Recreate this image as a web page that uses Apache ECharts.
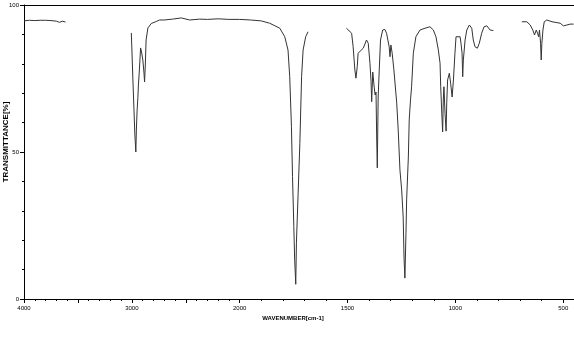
<!DOCTYPE html>
<html>
<head>
<meta charset="utf-8">
<script src="https://cdn.jsdelivr.net/npm/echarts@6/dist/echarts.min.js"></script>
<style>
  html, body { margin: 0; padding: 0; background: #fff; }
  #chart { width: 574px; height: 337px; }
</style>
</head>
<body>
<div id="chart"></div>
<script>
// wavenumber (cm-1) / transmittance (%), one pair of arrays per trace piece
const seg1W = [4000, 3950, 3900, 3850, 3800, 3750, 3700, 3670, 3645, 3615];
const seg1T = [94.6, 94.8, 94.7, 94.8, 94.8, 94.7, 94.5, 94.1, 94.5, 94.2];

const seg2W = [3005, 3000, 2990, 2981, 2972, 2963, 2958, 2951, 2944, 2939, 2933, 2925, 2919, 2910, 2898,
  2888, 2882, 2875, 2868, 2851, 2820, 2773, 2743, 2700, 2622, 2541, 2464, 2371, 2300, 2200, 2100, 2000,
  1950, 1900, 1861, 1814, 1791, 1776, 1768, 1760, 1755, 1749, 1745, 1740, 1737, 1729, 1721, 1713, 1706,
  1694, 1683];
const seg2T = [90.5, 85.4, 74.5, 65.0, 55.8, 50.0, 57.5, 64.3, 68.5, 72.8, 76.2, 81.3, 85.4, 84.0, 81.3,
  77.2, 73.8, 79.6, 88.1, 92.2, 93.7, 94.4, 94.9, 94.9, 95.2, 95.6, 94.9, 95.2, 95.1, 95.3, 95.1, 95.1,
  94.9, 94.6, 93.8, 92.1, 89.2, 84.7, 75.6, 58.6, 41.6, 24.6, 13.3, 5.0, 19.0, 36.0, 53.0, 75.6, 84.7,
  89.2, 90.9];

const seg3W = [1505, 1481, 1474, 1466, 1461, 1455, 1451, 1443, 1427, 1412, 1404, 1396, 1391, 1388, 1383,
  1376, 1372, 1368, 1365, 1362, 1358, 1353, 1347, 1337, 1327, 1319, 1307, 1303, 1299, 1293, 1285, 1272,
  1265, 1257, 1249, 1242, 1238, 1234, 1229, 1226, 1218, 1214, 1208, 1203, 1195, 1183, 1164, 1141, 1118,
  1102, 1090, 1079, 1071, 1068, 1063, 1059, 1056, 1053, 1048, 1043, 1040, 1036, 1028, 1022, 1015, 1009,
  1002, 997, 991, 978, 974, 969, 966, 963, 955, 947, 935, 924, 917, 909, 898, 889, 878, 867, 854, 839, 824];
const seg3T = [92.1, 90.4, 85.8, 77.9, 75.1, 79.0, 83.6, 84.1, 85.3, 88.1, 87.0, 80.2, 74.0, 67.1, 77.2,
  71.8, 69.4, 70.4, 55.8, 44.6, 68.7, 77.9, 88.1, 91.5, 91.7, 90.4, 85.8, 82.4, 86.4, 83.6, 77.9, 66.7,
  57.5, 43.9, 37.1, 27.9, 13.9, 7.1, 22.4, 33.7, 48.3, 60.9, 67.7, 72.2, 83.6, 89.2, 91.5, 92.1, 92.6,
  91.5, 89.2, 84.7, 80.2, 72.2, 63.2, 56.8, 67.7, 72.2, 63.2, 57.1, 66.7, 74.5, 76.8, 73.4, 68.7, 74.5,
  83.6, 89.2, 89.8, 89.2, 87.0, 83.6, 75.6, 81.3, 88.1, 91.5, 93.2, 92.1, 88.1, 85.8, 85.3, 87.0, 90.4,
  92.6, 92.9, 91.5, 91.3];

const seg4W = [692, 669, 653, 641, 633, 625, 619, 614, 610, 605, 602, 599, 594, 588, 576, 552, 529, 514,
  499, 483, 468, 452];
const seg4T = [94.3, 94.3, 93.2, 91.5, 89.8, 91.5, 90.4, 89.2, 91.5, 87.0, 81.3, 87.0, 91.5, 94.3, 94.9,
  94.3, 94.0, 93.8, 92.9, 93.2, 93.5, 93.5];

const minorTickWn = [];
for (let w = 4000; w >= 500; w -= 100) minorTickWn.push(w);
const majorTickWn = [4000, 3500, 3000, 2500, 2000, 1500, 1000, 500];
const labelWn = [4000, 3000, 2000, 1500, 1000, 500];

// the axis is drawn at half scale above 2000 cm-1
const toPos = (w) => (w >= 2000 ? (4000 - w) / 2 : 1000 + (2000 - w));
const toWn = (p) => (p <= 1000 ? 4000 - 2 * p : 2000 - (p - 1000));

const font = "Liberation Sans";
const xMax = 2550;

const makeSeries = (ws, ts) => ({
  type: "line",
  showSymbol: false,
  symbol: "none",
  data: ws.map((w, i) => [toPos(w), ts[i]]),
  lineStyle: { color: "#333", width: 1 },
  silent: true
});

const option = {
  animation: false,
  grid: { left: 24, right: 0, top: 5, bottom: 38 },
  xAxis: [
    {
      type: "value",
      min: 0,
      max: xMax,
      position: "bottom",
      axisLine: { lineStyle: { color: "#000", width: 1 } },
      axisTick: { show: true, length: 2, customValues: minorTickWn.map(toPos), lineStyle: { color: "#000" } },
      axisLabel: {
        customValues: labelWn.map(toPos),
        formatter: (v) => String(Math.round(toWn(v))),
        fontSize: 6,
        fontFamily: font,
        color: "#000",
        margin: 6,
        showMinLabel: true,
        showMaxLabel: true
      },
      splitLine: { show: false }
    },
    {
      type: "value",
      min: 0,
      max: xMax,
      position: "bottom",
      axisLine: { show: false },
      axisTick: { show: true, length: 4, customValues: majorTickWn.map(toPos), lineStyle: { color: "#000" } },
      axisLabel: { show: false },
      splitLine: { show: false }
    },
    {
      type: "value",
      min: 0,
      max: xMax,
      position: "top",
      axisLine: { lineStyle: { color: "#000", width: 1 } },
      axisTick: { show: false },
      axisLabel: { show: false },
      splitLine: { show: false }
    }
  ],
  yAxis: {
    type: "value",
    min: 0,
    max: 100,
    interval: 50,
    axisLine: { show: true, lineStyle: { color: "#000", width: 1 } },
    axisTick: { show: true, length: 4, lineStyle: { color: "#000" } },
    minorTick: { show: true, splitNumber: 5, length: 2, lineStyle: { color: "#000" } },
    axisLabel: { fontSize: 6, fontFamily: font, color: "#000", margin: 5 },
    splitLine: { show: false }
  },
  graphic: [
    {
      type: "text",
      x: 6,
      y: 142,
      rotation: Math.PI / 2,
      style: {
        text: "TRANSMITTANCE[%]",
        font: "bold 8px " + font,
        fill: "#000",
        align: "center",
        verticalAlign: "middle"
      }
    },
    {
      type: "text",
      x: 293,
      y: 318,
      style: {
        text: "WAVENUMBER[cm-1]",
        font: "bold 6px " + font,
        fill: "#000",
        align: "center",
        verticalAlign: "middle"
      }
    }
  ],
  series: [
    makeSeries(seg1W, seg1T),
    makeSeries(seg2W, seg2T),
    makeSeries(seg3W, seg3T),
    makeSeries(seg4W, seg4T)
  ]
};

const chart = echarts.init(document.getElementById("chart"), null, { renderer: "canvas" });
chart.setOption(option);
</script>
</body>
</html>
